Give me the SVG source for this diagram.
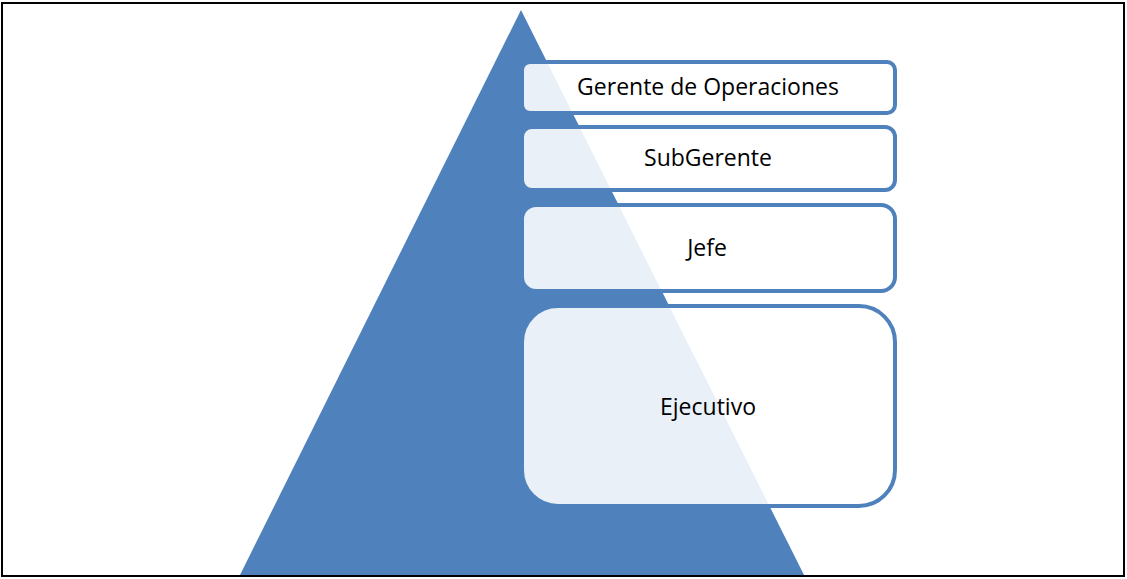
<svg xmlns="http://www.w3.org/2000/svg" width="1127" height="579" viewBox="0 0 1127 579">
<style>
.box{fill:#ffffff;fill-opacity:0.88;stroke:#4F81BD;stroke-width:4}
.lbl{font-family:"Open Sans","Liberation Sans",sans-serif;font-size:23px;fill:#000;text-anchor:middle}
</style>
<rect x="0" y="0" width="1127" height="579" fill="#ffffff"/>
<rect x="2" y="3" width="1122" height="573" fill="none" stroke="#000" stroke-width="2"/>
<g id="pyramid">
<polygon points="521,10 804,575 240,575" fill="#4F81BD"/>
</g>
<g id="connectors"></g>
<g id="node-gerente">
<rect class="box" x="522" y="62" width="373" height="51" rx="8"/>
<text class="lbl" x="708" y="95">Gerente de Operaciones</text>
</g>
<g id="node-subgerente">
<rect class="box" x="522" y="127" width="373" height="63" rx="10"/>
<text class="lbl" x="708" y="166">SubGerente</text>
</g>
<g id="node-jefe">
<rect class="box" x="522" y="205" width="373" height="86" rx="14"/>
<text class="lbl" x="707" y="256">Jefe</text>
</g>
<g id="node-ejecutivo">
<rect class="box" x="522" y="306" width="373" height="200" rx="36"/>
<text class="lbl" x="708" y="415">Ejecutivo</text>
</g>
</svg>
